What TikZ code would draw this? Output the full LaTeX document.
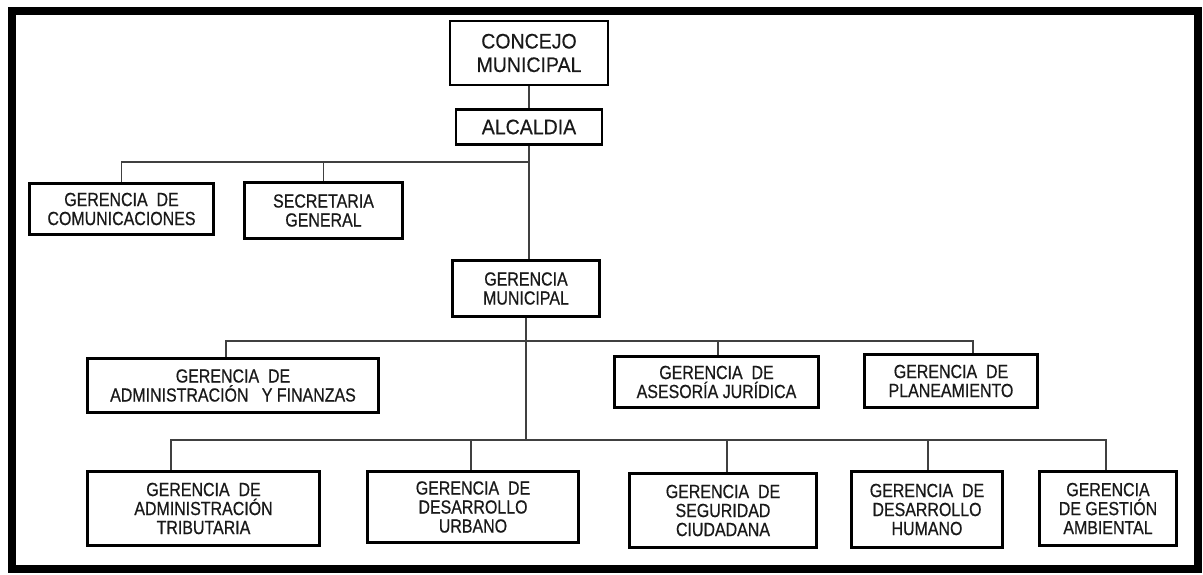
\documentclass[tikz,border=0pt]{standalone}
\usepackage{fontspec}
\setmainfont{Liberation Sans}
\newfontfamily\narrowf{Liberation Sans}[FakeStretch=0.84,FakeBold=0.6]
\newfontfamily\bigf{Liberation Sans}[FakeStretch=0.93,FakeBold=0.4]
\begin{document}
\begin{tikzpicture}[x=1pt,y=-1pt,
  box/.style={draw=black, line width=2.6pt, align=center, inner sep=0pt,
    font=\narrowf\fontsize{19}{19}\selectfont, text=black!90},
  big/.style={box, font=\bigf\fontsize{21}{23.5}\selectfont},
  conn/.style={draw=black!75, line width=1.8pt}]
\useasboundingbox (0,0) rectangle (1203,574);
\draw[line width=8pt] (12,11) rectangle (1198,569);

\node[big, minimum width=158pt, minimum height=64pt] (concejo) at (529,53) {CONCEJO\\MUNICIPAL};
\node[big, minimum width=146pt, minimum height=35pt] (alcaldia) at (529,127) {ALCALDIA};
\node[box, minimum width=184pt, minimum height=51pt] (comunic) at (121.5,209) {GERENCIA\ \ DE\\COMUNICACIONES};
\node[box, minimum width=158pt, minimum height=56pt] (secret) at (323.5,210.5) {SECRETARIA\\GENERAL};
\node[box, minimum width=147pt, minimum height=56pt] (gmun) at (526,288.5) {GERENCIA\\MUNICIPAL};
\node[box, minimum width=291pt, minimum height=54pt] (adfin) at (233,385.5) {GERENCIA\ \ DE\\ADMINISTRACIÓN\ \ \ Y FINANZAS};
\node[box, minimum width=204pt, minimum height=51pt] (asesor) at (716.5,382) {GERENCIA\ \ DE\\ASESORÍA\ JURÍDICA};
\node[box, minimum width=173pt, minimum height=53pt] (planea) at (951,381) {GERENCIA\ \ DE\\PLANEAMIENTO};
\node[box, minimum width=232pt, minimum height=74pt] (trib) at (203.5,508.5) {GERENCIA\ \ DE\\ADMINISTRACIÓN\\TRIBUTARIA};
\node[box, minimum width=211pt, minimum height=71pt] (urbano) at (473,507) {GERENCIA\ \ DE\\DESARROLLO\\URBANO};
\node[box, minimum width=187pt, minimum height=74pt] (segur) at (723,510.5) {GERENCIA\ \ DE\\SEGURIDAD\\CIUDADANA};
\node[box, minimum width=151pt, minimum height=76pt] (humano) at (927,509.5) {GERENCIA\ \ DE\\DESARROLLO\\HUMANO};
\node[box, minimum width=137pt, minimum height=74pt] (ambien) at (1108,508.5) {GERENCIA\\DE\ GESTIÓN\\AMBIENTAL};

% top level
\draw[conn] (concejo) -- (alcaldia);
\coordinate (b1) at (529,162);
\draw[conn] (alcaldia.south) -- (alcaldia.south |- gmun.north);
\draw[conn] (b1) -| (comunic.north);
\draw[conn] (secret.north) -- (secret.north |- b1);

% second bus
\coordinate (b2l) at (226,341);
\coordinate (b2r) at (973,341);
\coordinate (d2a) at (718,341);
\draw[conn] (b2l |- adfin.north) -- (b2l) -- (b2r) -- (b2r |- planea.north);
\draw[conn] (d2a) -- (d2a |- asesor.north);

% third bus
\coordinate (b3l) at (171,440);
\coordinate (b3r) at (1106,440);
\coordinate (d3a) at (471,440);
\coordinate (d3b) at (727,440);
\coordinate (d3c) at (928,440);
\draw[conn] (gmun.south) -- (gmun.south |- b3l);
\draw[conn] (b3l |- trib.north) -- (b3l) -- (b3r) -- (b3r |- ambien.north);
\draw[conn] (d3a) -- (d3a |- urbano.north);
\draw[conn] (d3b) -- (d3b |- segur.north);
\draw[conn] (d3c) -- (d3c |- humano.north);
\end{tikzpicture}
\end{document}
